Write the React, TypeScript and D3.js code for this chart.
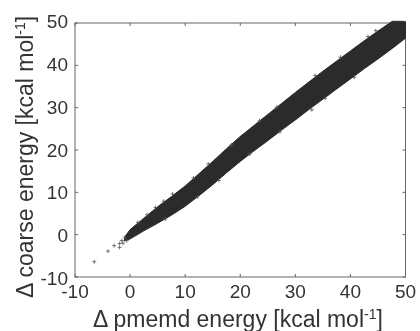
import React from "react"
import * as d3 from "d3"

const xTicks = [-10, 0, 10, 20, 30, 40, 50]
const yTicks = [-10, 0, 10, 20, 30, 40, 50]

// band of the dense cloud
const bandX = [-1, 0, 2.5, 5, 7.5, 10, 12.5, 15, 17.5, 20, 22.5, 25, 27.5, 30, 32.5, 35, 37.5, 40, 42.5, 45, 47.6, 49.5, 50]
const bandUpper = [-0.6, 1.2, 3.9, 6.6, 9, 11.5, 14.4, 17.3, 20.3, 23.2, 25.8, 28.4, 31, 33.6, 36.1, 38.6, 41, 43.4, 45.8, 48.1, 50.4, 50.4, 50.3]
const bandLower = [-1.5, -1, 0.9, 2.7, 4.6, 6.7, 9.2, 11.8, 14.6, 17.3, 19.8, 22.2, 24.7, 27.1, 29.6, 32, 34.4, 36.8, 39.2, 41.5, 44, 45.9, 46.4]

// stray points outside the band
const strayX = [-6.5, -4, -2.9, -1.9, -1.9, -1.5, -1.3, -0.9, -0.6, 1.4, 3.1, 4.6, 6.1, 7.7, 11.5, 14.2, 18.4, 23.5, 26.6, 33.6, 38.2, 43.2, 44.6, 6.4, 12.2, 16.1, 21.7, 27.2, 35.4, 40.7, 33]
const strayY = [-6.4, -3.9, -2.6, -3, -2.1, -1.4, -2, -0.6, -1.4, 2.9, 4.7, 6.4, 7.9, 9.6, 13.4, 16.7, 21.2, 26.9, 30.1, 37.6, 41.9, 46.8, 48.2, 3.7, 8.9, 12.8, 19, 24.3, 32.2, 37.2, 29.5]

const width = 420
const height = 331
const margin = { top: 23, right: 14.5, bottom: 54, left: 75 }
const textColor = "#333333"
const axisColor = "#666666"
const markColor = "#2b2b2b"
const fontFamily = "'Liberation Sans', Arial, sans-serif"

export default function App() {
  const x = d3.scaleLinear().domain([-10, 50]).range([margin.left, width - margin.right])
  const y = d3.scaleLinear().domain([-10, 50]).range([height - margin.bottom, margin.top])
  // the y tick labels sit on a slightly wider spacing than the ticks
  const yLabel = d3.scaleLinear().domain([-10, 50]).range([285, 28])

  const band = d3
    .area<number>()
    .x((d) => x(d))
    .y0((_, i) => y(bandLower[i]))
    .y1((_, i) => y(bandUpper[i]))

  return (
    <svg
      width={width}
      height={height}
      style={{ position: "fixed", left: 0, top: 0, background: "#fff", filter: "blur(0.35px)" }}
      fontFamily={fontFamily}
    >
      <rect
        x={margin.left}
        y={margin.top}
        width={width - margin.left - margin.right}
        height={height - margin.top - margin.bottom}
        fill="none"
        stroke={axisColor}
        strokeWidth={1}
      />
      {xTicks.map((t) => (
        <g key={t} transform={`translate(${x(t)},0)`}>
          <line y1={height - margin.bottom} y2={height - margin.bottom - 3} stroke={axisColor} />
          <line y1={margin.top} y2={margin.top + 3} stroke={axisColor} />
          <text y={298} textAnchor="middle" fontSize={19} fill={textColor}>
            {t}
          </text>
        </g>
      ))}
      {yTicks.map((t) => (
        <g key={t}>
          <line x1={margin.left} x2={margin.left + 3} y1={y(t)} y2={y(t)} stroke={axisColor} />
          <line
            x1={width - margin.right}
            x2={width - margin.right - 3}
            y1={y(t)}
            y2={y(t)}
            stroke={axisColor}
          />
          <text x={68} y={yLabel(t)} textAnchor="end" fontSize={19} fill={textColor}>
            {t}
          </text>
        </g>
      ))}

      <path d={band(bandX) ?? ""} fill={markColor} stroke={markColor} strokeWidth={1} />
      {strayX.map((d, i) => (
        <path
          key={i}
          transform={`translate(${x(d)},${y(strayY[i])})`}
          d="M-2,0H2M0,-2V2"
          stroke="#555"
          strokeWidth={0.8}
        />
      ))}

      <text x={93} y={327} fontSize={23} fill={textColor}>
        Δ pmemd energy [kcal mol
        <tspan fontSize={14} dy={-8}>-1</tspan>
        <tspan dy={8}>]</tspan>
      </text>
      <text transform="translate(33,298) rotate(-90)" fontSize={23} fill={textColor}>
        Δ coarse energy [kcal mol
        <tspan fontSize={14} dy={-8}>-1</tspan>
        <tspan dy={8}>]</tspan>
      </text>
    </svg>
  )
}
